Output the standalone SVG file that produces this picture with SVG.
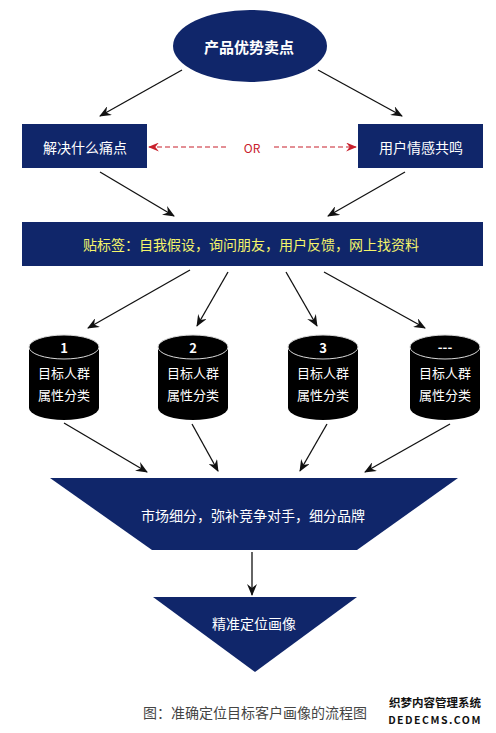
<svg xmlns="http://www.w3.org/2000/svg" width="496" height="733" viewBox="0 0 496 733">
<defs>
<style>
.nv{fill:#10266a}
.t{font-family:"Noto Sans CJK SC","Noto Sans",sans-serif;text-anchor:middle;dominant-baseline:central}
.w{fill:#ffffff;font-size:14px}
.cy{fill:#000000}
.rim{fill:#000000;stroke:#d8d8d8;stroke-width:1}
.ln{stroke:#111111;stroke-width:1.3;fill:none;marker-end:url(#ah)}
</style>
<marker id="ah" viewBox="0 0 12 10" refX="11" refY="5" markerWidth="12" markerHeight="10" markerUnits="userSpaceOnUse" orient="auto">
<path d="M0,0 L12,5 L0,10 L4,5 Z" fill="#111111"/>
</marker>
<marker id="rh" viewBox="0 0 12 10" refX="11" refY="5" markerWidth="12" markerHeight="9" markerUnits="userSpaceOnUse" orient="auto-start-reverse">
<path d="M0,0 L12,5 L0,10 L4,5 Z" fill="#c8202c"/>
</marker>
</defs>
<rect width="496" height="733" fill="#ffffff"/>

<g id="connectors">
<line class="ln" x1="182" y1="70" x2="100" y2="116"/>
<line class="ln" x1="318" y1="70" x2="402" y2="116"/>
<line class="ln" x1="100" y1="172" x2="174" y2="216"/>
<line class="ln" x1="405" y1="172" x2="328" y2="216"/>
<line class="ln" x1="190" y1="270" x2="88" y2="328"/>
<line class="ln" x1="228" y1="272" x2="197" y2="326"/>
<line class="ln" x1="286" y1="272" x2="317" y2="326"/>
<line class="ln" x1="324" y1="272" x2="425" y2="328"/>
<line class="ln" x1="64" y1="423" x2="147" y2="472"/>
<line class="ln" x1="192" y1="424" x2="218" y2="471"/>
<line class="ln" x1="327" y1="424" x2="300" y2="471"/>
<line class="ln" x1="450" y1="424" x2="365" y2="472"/>
<line class="ln" x1="252" y1="552" x2="252" y2="595"/>
<line x1="149" y1="147" x2="229" y2="147" stroke="#c8202c" stroke-width="1.2" stroke-dasharray="5,3" marker-start="url(#rh)"/>
<line x1="274" y1="147" x2="356" y2="147" stroke="#c8202c" stroke-width="1.2" stroke-dasharray="5,3" marker-end="url(#rh)"/>
<text class="t" x="252" y="147" font-size="12" fill="#c8202c">OR</text>
</g>

<g id="n-top">
<ellipse class="nv" cx="250" cy="46" rx="77" ry="36"/>
<text class="t" x="249" y="46" font-size="15" font-weight="bold" fill="#ffffff">产品优势卖点</text>
</g>

<g id="n-left">
<rect class="nv" x="22" y="124" width="125" height="44"/>
<text class="t w" x="85" y="147">解决什么痛点</text>
</g>

<g id="n-right">
<rect class="nv" x="358" y="124" width="125" height="44"/>
<text class="t w" x="421" y="147">用户情感共鸣</text>
</g>

<g id="n-banner">
<rect class="nv" x="22" y="222" width="461" height="44"/>
<text class="t" x="251" y="244" font-size="14" fill="#f4f46a">贴标签：自我假设，询问朋友，用户反馈，网上找资料</text>
</g>

<g id="n-cyl1">
<path class="cy" d="M29,347 L29,408 A35,12 0 0 0 99,408 L99,347 Z"/>
<ellipse class="rim" cx="64" cy="347" rx="35" ry="12"/>
<text class="t" x="64" y="347" font-size="13" font-weight="bold" fill="#ffffff">1</text>
<text class="t" x="64" y="372" font-size="13" fill="#ffffff">目标人群</text>
<text class="t" x="64" y="394" font-size="13" fill="#ffffff">属性分类</text>
</g>

<g id="n-cyl2">
<path class="cy" d="M158,347 L158,408 A35,12 0 0 0 228,408 L228,347 Z"/>
<ellipse class="rim" cx="193" cy="347" rx="35" ry="12"/>
<text class="t" x="193" y="347" font-size="13" font-weight="bold" fill="#ffffff">2</text>
<text class="t" x="193" y="372" font-size="13" fill="#ffffff">目标人群</text>
<text class="t" x="193" y="394" font-size="13" fill="#ffffff">属性分类</text>
</g>

<g id="n-cyl3">
<path class="cy" d="M288,347 L288,408 A35,12 0 0 0 358,408 L358,347 Z"/>
<ellipse class="rim" cx="323" cy="347" rx="35" ry="12"/>
<text class="t" x="323" y="347" font-size="13" font-weight="bold" fill="#ffffff">3</text>
<text class="t" x="323" y="372" font-size="13" fill="#ffffff">目标人群</text>
<text class="t" x="323" y="394" font-size="13" fill="#ffffff">属性分类</text>
</g>

<g id="n-cyl4">
<path class="cy" d="M410,347 L410,408 A35,12 0 0 0 480,408 L480,347 Z"/>
<ellipse class="rim" cx="445" cy="347" rx="35" ry="12"/>
<text class="t" x="445" y="346" font-size="13" font-weight="bold" fill="#ffffff">---</text>
<text class="t" x="445" y="372" font-size="13" fill="#ffffff">目标人群</text>
<text class="t" x="445" y="394" font-size="13" fill="#ffffff">属性分类</text>
</g>

<g id="n-segment">
<polygon class="nv" points="50,478 458,478 357,550 152,550"/>
<text class="t w" x="253" y="515">市场细分，弥补竞争对手，细分品牌</text>
</g>

<g id="n-target">
<polygon class="nv" points="153,597 357,597 255,672"/>
<text class="t w" x="254" y="623">精准定位画像</text>
</g>

<text class="t" x="255" y="712" font-size="14" fill="#444444">图：准确定位目标客户画像的流程图</text>
<text class="t" x="435" y="702" font-size="11.5" font-weight="bold" fill="#111111">织梦内容管理系统</text>
<text class="t" x="435" y="719" font-size="10.5" font-weight="bold" fill="#111111" letter-spacing="1.5" font-family="'DejaVu Sans Mono',monospace">DEDECMS.COM</text>
</svg>
